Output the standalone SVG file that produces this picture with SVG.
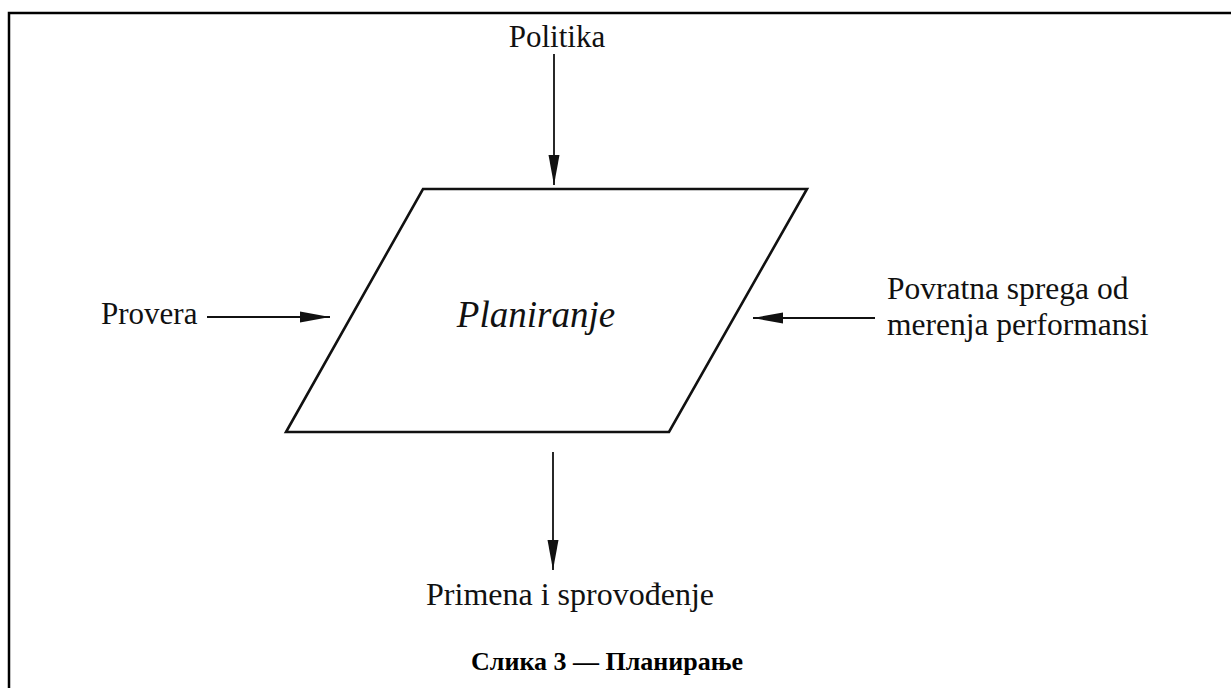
<svg xmlns="http://www.w3.org/2000/svg" width="1231" height="688" viewBox="0 0 1231 688">
<style>
.t{font-family:"Liberation Serif","Times New Roman",serif;font-size:32px;fill:#111}
.c{font-family:"Liberation Serif","Times New Roman",serif;font-size:26px;font-weight:bold;fill:#000}
.ln{stroke:#111;stroke-width:1.8;fill:none}
</style>
<defs>
<marker id="ah" markerUnits="userSpaceOnUse" markerWidth="32" markerHeight="14" viewBox="0 0 32 14" refX="30" refY="7" orient="auto">
<path d="M0,1.5 L30,7 L0,12.5 Z" fill="#111"/>
</marker>
</defs>
<rect width="1231" height="688" fill="#fff"/>
<g id="frame" fill="none" stroke="#000" stroke-width="2.5">
<path d="M9,688 L9,13 L1231,13"/>
</g>
<g id="planiranje">
<polygon points="423,189 807,189 669,432 286,432" fill="none" stroke="#111" stroke-width="2.6" stroke-linejoin="miter"/>
<text x="536" y="327" text-anchor="middle" class="t" style="font-size:37px;font-style:italic">Planiranje</text>
</g>
<g id="politika"><text x="557" y="47" text-anchor="middle" class="t" style="font-size:31px">Politika</text></g>
<g id="provera"><text x="101" y="324" class="t" style="font-size:31px">Provera</text></g>
<g id="povratna"><text x="887" y="299" class="t" style="font-size:31.5px"><tspan x="887">Povratna sprega od</tspan><tspan x="887" dy="36">merenja performansi</tspan></text></g>
<g id="primena"><text x="570" y="605" text-anchor="middle" class="t">Primena i sprovođenje</text></g>
<g id="caption"><text x="607" y="670" text-anchor="middle" class="c">Слика 3 — Планирање</text></g>
<g id="connectors">
<line class="ln" x1="554" y1="54" x2="554" y2="185" marker-end="url(#ah)"/>
<line class="ln" x1="207" y1="317" x2="330" y2="317" marker-end="url(#ah)"/>
<line class="ln" x1="875" y1="318" x2="753" y2="318" marker-end="url(#ah)"/>
<line class="ln" x1="553" y1="452" x2="553" y2="570" marker-end="url(#ah)"/>
</g>
</svg>
